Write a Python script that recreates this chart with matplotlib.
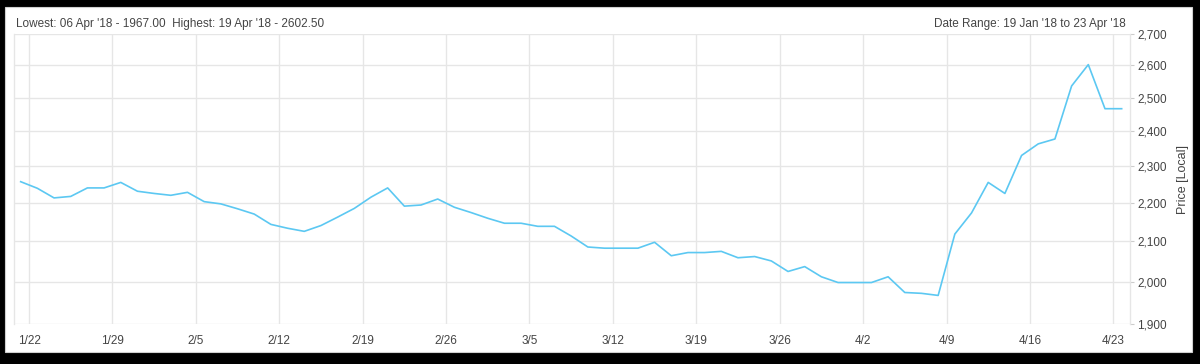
import numpy as np
import pandas as pd
import matplotlib
matplotlib.use("Agg")
import matplotlib.pyplot as plt
from matplotlib.ticker import FuncFormatter, NullLocator
from matplotlib.patches import Rectangle

# trading days 19 Jan '18 .. 23 Apr '18
dates = pd.bdate_range("2018-01-19", "2018-04-23")

price = [2258, 2240, 2214, 2218, 2241, 2241, 2256, 2232, 2226, 2221,
         2229, 2204, 2198, 2185, 2171, 2144, 2134, 2126, 2141, 2163,
         2186, 2216, 2241, 2192, 2195, 2211, 2189, 2175, 2160, 2147,
         2147, 2139, 2139, 2114, 2086, 2083, 2083, 2083, 2098, 2064,
         2072, 2072, 2075, 2059, 2062, 2051, 2025, 2037, 2012, 1998,
         1998, 1998, 2012, 1974, 1972, 1967, 2119, 2174, 2256, 2226,
         2331, 2364, 2378, 2536, 2602.5, 2467, 2467]

y_ticks = [1900, 2000, 2100, 2200, 2300, 2400, 2500, 2600, 2700]
header_left = "Lowest: 06 Apr '18 - 1967.00  Highest: 19 Apr '18 - 2602.50"
header_right = "Date Range: 19 Jan '18 to 23 Apr '18"

plt.rcParams['font.family'] = ['Liberation Sans', 'DejaVu Sans']

fig = plt.figure(figsize=(12, 3.64), dpi=100)
fig.patch.set_facecolor("black")
# white panel
fig.add_artist(Rectangle((5 / 1200, 1 - 352 / 364), 1187 / 1200, 345 / 364,
                         transform=fig.transFigure, facecolor="white",
                         edgecolor="#d0d0d0", linewidth=0.8, zorder=0))

ax = fig.add_axes([14 / 1200, 1 - 324 / 364, 1116 / 1200, 289.7 / 364])
ax.set_facecolor("white")

x = np.arange(len(dates))
ax.plot(x, price, color="#5cc8f2", linewidth=1.2, zorder=3)

ax.set_yscale("log")
ax.set_ylim(1900, 2700)
ax.yaxis.set_minor_locator(NullLocator())
ax.set_yticks(y_ticks)
ax.yaxis.set_major_formatter(FuncFormatter(lambda v, p: f"{int(round(v)):,}"))
ax.yaxis.tick_right()
ax.yaxis.set_label_position("right")
ax.set_ylabel("Price [Local]", fontsize=9, color="#444444")
ax.yaxis.set_label_coords((1177 - 14) / 1116, 0.5)

mondays = [i for i, d in enumerate(dates) if d.weekday() == 0]
ax.set_xticks([i - 0.5 for i in mondays])
ax.set_xticklabels([f"{dates[i].month}/{dates[i].day}" for i in mondays])
ax.set_xlim(-0.4, 66.5)

ax.grid(True, color="#e6e6e6", linewidth=1.0)
ax.set_axisbelow(True)
for s in ["top", "bottom"]:
    ax.spines[s].set_visible(False)
for s in ["left", "right"]:
    ax.spines[s].set_color("#e6e6e6")
    ax.spines[s].set_linewidth(1.0)

ax.tick_params(axis="x", length=0, labelsize=8.5, labelcolor="#444444", pad=8)
ax.tick_params(axis="y", length=3, width=0.8, color="#cccccc",
               labelsize=8.5, labelcolor="#444444", pad=2)
ax.tick_params(axis="y", which="minor", length=0)

fig.text(16 / 1200, 1 - 24 / 364, header_left, fontsize=8.5, color="#444444",
         ha="left", va="center")
fig.text(1126 / 1200, 1 - 24 / 364, header_right, fontsize=8.5, color="#444444",
         ha="right", va="center")

fig.savefig("out.png", dpi=100, facecolor=fig.get_facecolor())
